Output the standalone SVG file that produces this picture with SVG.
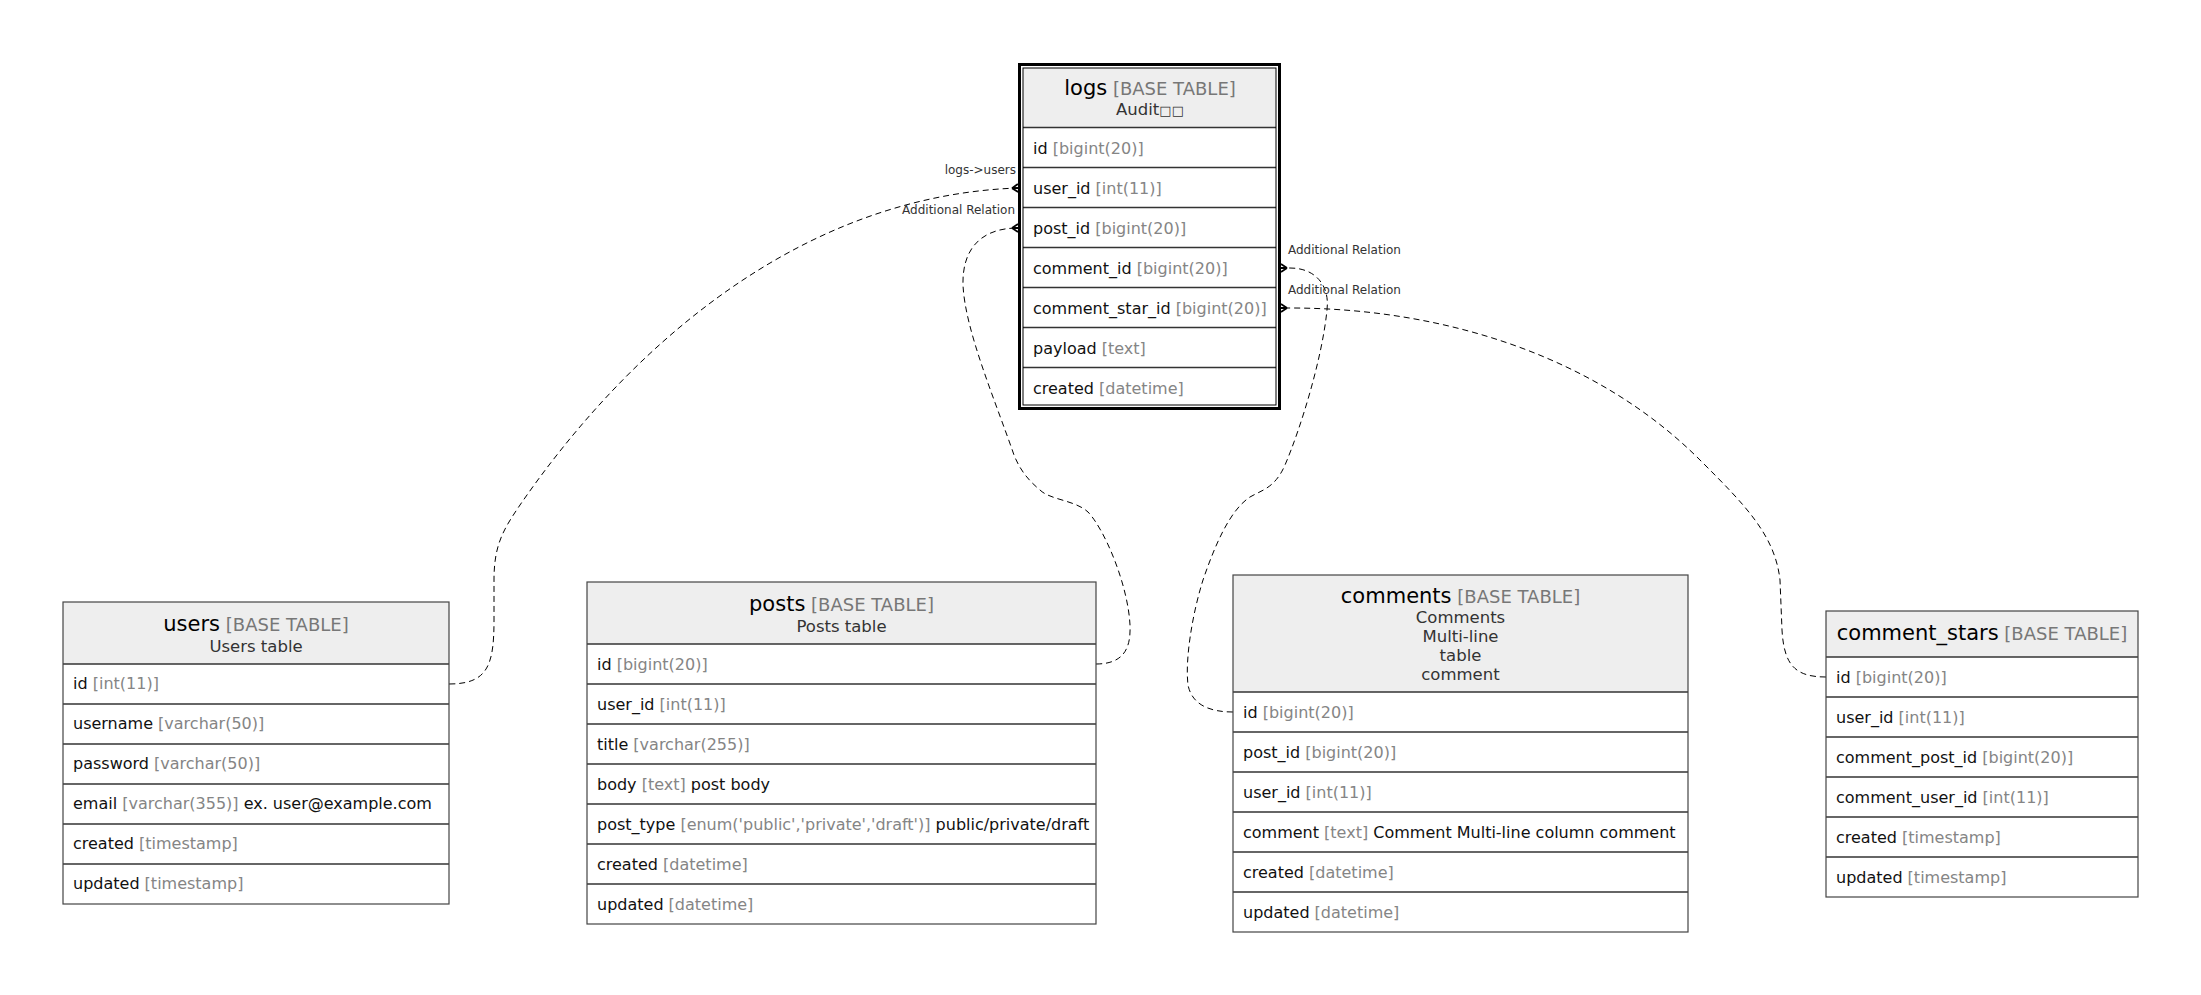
<svg xmlns="http://www.w3.org/2000/svg" width="2201" height="995" viewBox="0 0 2201 995">
<style>
  text { font-family: "DejaVu Sans", "Liberation Sans", sans-serif; }
  .bg { fill: #ffffff; stroke: none; }
  .hd { fill: #eeeeee; stroke: none; }
  .ol { fill: none; stroke: #444444; stroke-width: 1.2; }
  .sep { stroke: #333333; stroke-width: 1.6; }
  .ttl { font-size: 21px; fill: #000000; }
  .bt { font-size: 18px; fill: #777777; }
  .sub { font-size: 16.5px; fill: #333333; }
  .row { font-size: 16px; fill: #111111; }
  .ty { fill: #858585; }
  .lbl { font-size: 12px; fill: #333333; }
  .rel { fill: none; stroke: #000000; stroke-width: 1; stroke-dasharray: 6 4; }
</style>
<defs>
  <marker id="crow" markerUnits="userSpaceOnUse" viewBox="-9 -6 11 12" refX="0" refY="0" markerWidth="11" markerHeight="12" orient="auto" overflow="visible">
    <path d="M-6,0 L0,-4 M-6,0 L0,4 M-6,0 L0,0" fill="none" stroke="#000000" stroke-width="1.8"/>
  </marker>
</defs>

<g id="connectors">
  <path class="rel" marker-end="url(#crow)" d="M449,684 C488,684 494,665 494,620 L494,580 C494,545 503,530 520,505 C620,360 790,196 1018,188"/>
  <path class="rel" marker-end="url(#crow)" d="M1096,664 C1124,664 1131,648 1130,625 C1128,585 1105,530 1088,512 C1075,500 1050,500 1040,490 C1028,480 1020,470 1014,455 C995,400 965,330 963,285 C962,250 980,228 1018,228"/>
  <path class="rel" marker-end="url(#crow)" d="M1233,712 C1210,712 1192,705 1188,685 C1185,660 1192,615 1203,580 C1215,545 1230,510 1250,497 C1262,490 1275,488 1285,465 C1300,430 1322,360 1327,310 C1330,285 1315,268 1290,268 L1281,268"/>
  <path class="rel" marker-end="url(#crow)" d="M1826,677 C1795,677 1784,665 1782,630 L1780,580 C1775,535 1745,505 1700,460 C1600,360 1450,308 1290,308 L1281,308"/>
  <text class="lbl" x="1016" y="174" text-anchor="end">logs-&gt;users</text>
  <text class="lbl" x="1015" y="214" text-anchor="end">Additional Relation</text>
  <text class="lbl" x="1288" y="254">Additional Relation</text>
  <text class="lbl" x="1288" y="294">Additional Relation</text>
</g>

<g id="logs">
  <rect class="bg" x="1019.5" y="64.5" width="260" height="344"/>
  <rect class="hd" x="1023" y="68" width="253" height="59.5"/>
  <line class="sep" x1="1023" y1="127.5" x2="1276" y2="127.5"/>
  <line class="sep" x1="1023" y1="167.5" x2="1276" y2="167.5"/>
  <line class="sep" x1="1023" y1="207.5" x2="1276" y2="207.5"/>
  <line class="sep" x1="1023" y1="247.5" x2="1276" y2="247.5"/>
  <line class="sep" x1="1023" y1="287.5" x2="1276" y2="287.5"/>
  <line class="sep" x1="1023" y1="327.5" x2="1276" y2="327.5"/>
  <line class="sep" x1="1023" y1="367.5" x2="1276" y2="367.5"/>
  <rect x="1019.5" y="64.5" width="260" height="344" fill="none" stroke="#000000" stroke-width="3"/>
  <rect x="1023" y="68" width="253" height="337" fill="none" stroke="#000000" stroke-width="1"/>
  <text x="1150" y="95" text-anchor="middle"><tspan class="ttl">logs</tspan><tspan class="bt"> [BASE TABLE]</tspan></text>
  <text class="sub" x="1150" y="115" text-anchor="middle">Audit<tspan font-size="13">□□</tspan></text>
  <text class="row" x="1033" y="153.5">id<tspan class="ty"> [bigint(20)]</tspan></text>
  <text class="row" x="1033" y="193.5">user_id<tspan class="ty"> [int(11)]</tspan></text>
  <text class="row" x="1033" y="233.5">post_id<tspan class="ty"> [bigint(20)]</tspan></text>
  <text class="row" x="1033" y="273.5">comment_id<tspan class="ty"> [bigint(20)]</tspan></text>
  <text class="row" x="1033" y="313.5">comment_star_id<tspan class="ty"> [bigint(20)]</tspan></text>
  <text class="row" x="1033" y="353.5">payload<tspan class="ty"> [text]</tspan></text>
  <text class="row" x="1033" y="393.5">created<tspan class="ty"> [datetime]</tspan></text>
</g>

<g id="users">
  <rect class="bg" x="63" y="602" width="386" height="302"/>
  <rect class="hd" x="63" y="602" width="386" height="62"/>
  <line class="sep" x1="63" y1="664" x2="449" y2="664"/>
  <line class="sep" x1="63" y1="704" x2="449" y2="704"/>
  <line class="sep" x1="63" y1="744" x2="449" y2="744"/>
  <line class="sep" x1="63" y1="784" x2="449" y2="784"/>
  <line class="sep" x1="63" y1="824" x2="449" y2="824"/>
  <line class="sep" x1="63" y1="864" x2="449" y2="864"/>
  <rect class="ol" x="63" y="602" width="386" height="302"/>
  <text x="256" y="631" text-anchor="middle"><tspan class="ttl">users</tspan><tspan class="bt"> [BASE TABLE]</tspan></text>
  <text class="sub" x="256" y="652" text-anchor="middle">Users table</text>
  <text class="row" x="73" y="689">id<tspan class="ty"> [int(11)]</tspan></text>
  <text class="row" x="73" y="729">username<tspan class="ty"> [varchar(50)]</tspan></text>
  <text class="row" x="73" y="769">password<tspan class="ty"> [varchar(50)]</tspan></text>
  <text class="row" x="73" y="809">email<tspan class="ty"> [varchar(355)]</tspan> ex. user@example.com</text>
  <text class="row" x="73" y="849">created<tspan class="ty"> [timestamp]</tspan></text>
  <text class="row" x="73" y="889">updated<tspan class="ty"> [timestamp]</tspan></text>
</g>

<g id="posts">
  <rect class="bg" x="587" y="582" width="509" height="342"/>
  <rect class="hd" x="587" y="582" width="509" height="62"/>
  <line class="sep" x1="587" y1="644" x2="1096" y2="644"/>
  <line class="sep" x1="587" y1="684" x2="1096" y2="684"/>
  <line class="sep" x1="587" y1="724" x2="1096" y2="724"/>
  <line class="sep" x1="587" y1="764" x2="1096" y2="764"/>
  <line class="sep" x1="587" y1="804" x2="1096" y2="804"/>
  <line class="sep" x1="587" y1="844" x2="1096" y2="844"/>
  <line class="sep" x1="587" y1="884" x2="1096" y2="884"/>
  <rect class="ol" x="587" y="582" width="509" height="342"/>
  <text x="841.5" y="611" text-anchor="middle"><tspan class="ttl">posts</tspan><tspan class="bt"> [BASE TABLE]</tspan></text>
  <text class="sub" x="841.5" y="632" text-anchor="middle">Posts table</text>
  <text class="row" x="597" y="669.5">id<tspan class="ty"> [bigint(20)]</tspan></text>
  <text class="row" x="597" y="709.5">user_id<tspan class="ty"> [int(11)]</tspan></text>
  <text class="row" x="597" y="749.5">title<tspan class="ty"> [varchar(255)]</tspan></text>
  <text class="row" x="597" y="789.5">body<tspan class="ty"> [text]</tspan> post body</text>
  <text class="row" x="597" y="829.5">post_type<tspan class="ty"> [enum('public','private','draft')]</tspan> public/private/draft</text>
  <text class="row" x="597" y="869.5">created<tspan class="ty"> [datetime]</tspan></text>
  <text class="row" x="597" y="909.5">updated<tspan class="ty"> [datetime]</tspan></text>
</g>

<g id="comments">
  <rect class="bg" x="1233" y="575" width="455" height="357"/>
  <rect class="hd" x="1233" y="575" width="455" height="117"/>
  <line class="sep" x1="1233" y1="692" x2="1688" y2="692"/>
  <line class="sep" x1="1233" y1="732" x2="1688" y2="732"/>
  <line class="sep" x1="1233" y1="772" x2="1688" y2="772"/>
  <line class="sep" x1="1233" y1="812" x2="1688" y2="812"/>
  <line class="sep" x1="1233" y1="852" x2="1688" y2="852"/>
  <line class="sep" x1="1233" y1="892" x2="1688" y2="892"/>
  <rect class="ol" x="1233" y="575" width="455" height="357"/>
  <text x="1460.5" y="603" text-anchor="middle"><tspan class="ttl">comments</tspan><tspan class="bt"> [BASE TABLE]</tspan></text>
  <text class="sub" x="1460.5" y="623" text-anchor="middle">Comments</text>
  <text class="sub" x="1460.5" y="642" text-anchor="middle">Multi-line</text>
  <text class="sub" x="1460.5" y="661" text-anchor="middle">table</text>
  <text class="sub" x="1460.5" y="680" text-anchor="middle">comment</text>
  <text class="row" x="1243" y="717.5">id<tspan class="ty"> [bigint(20)]</tspan></text>
  <text class="row" x="1243" y="757.5">post_id<tspan class="ty"> [bigint(20)]</tspan></text>
  <text class="row" x="1243" y="797.5">user_id<tspan class="ty"> [int(11)]</tspan></text>
  <text class="row" x="1243" y="837.5">comment<tspan class="ty"> [text]</tspan> Comment Multi-line column comment</text>
  <text class="row" x="1243" y="877.5">created<tspan class="ty"> [datetime]</tspan></text>
  <text class="row" x="1243" y="917.5">updated<tspan class="ty"> [datetime]</tspan></text>
</g>

<g id="comment_stars">
  <rect class="bg" x="1826" y="611" width="312" height="286"/>
  <rect class="hd" x="1826" y="611" width="312" height="46"/>
  <line class="sep" x1="1826" y1="657" x2="2138" y2="657"/>
  <line class="sep" x1="1826" y1="697" x2="2138" y2="697"/>
  <line class="sep" x1="1826" y1="737" x2="2138" y2="737"/>
  <line class="sep" x1="1826" y1="777" x2="2138" y2="777"/>
  <line class="sep" x1="1826" y1="817" x2="2138" y2="817"/>
  <line class="sep" x1="1826" y1="857" x2="2138" y2="857"/>
  <rect class="ol" x="1826" y="611" width="312" height="286"/>
  <text x="1982" y="640" text-anchor="middle"><tspan class="ttl">comment_stars</tspan><tspan class="bt"> [BASE TABLE]</tspan></text>
  <text class="row" x="1836" y="682.5">id<tspan class="ty"> [bigint(20)]</tspan></text>
  <text class="row" x="1836" y="722.5">user_id<tspan class="ty"> [int(11)]</tspan></text>
  <text class="row" x="1836" y="762.5">comment_post_id<tspan class="ty"> [bigint(20)]</tspan></text>
  <text class="row" x="1836" y="802.5">comment_user_id<tspan class="ty"> [int(11)]</tspan></text>
  <text class="row" x="1836" y="842.5">created<tspan class="ty"> [timestamp]</tspan></text>
  <text class="row" x="1836" y="882.5">updated<tspan class="ty"> [timestamp]</tspan></text>
</g>
</svg>
